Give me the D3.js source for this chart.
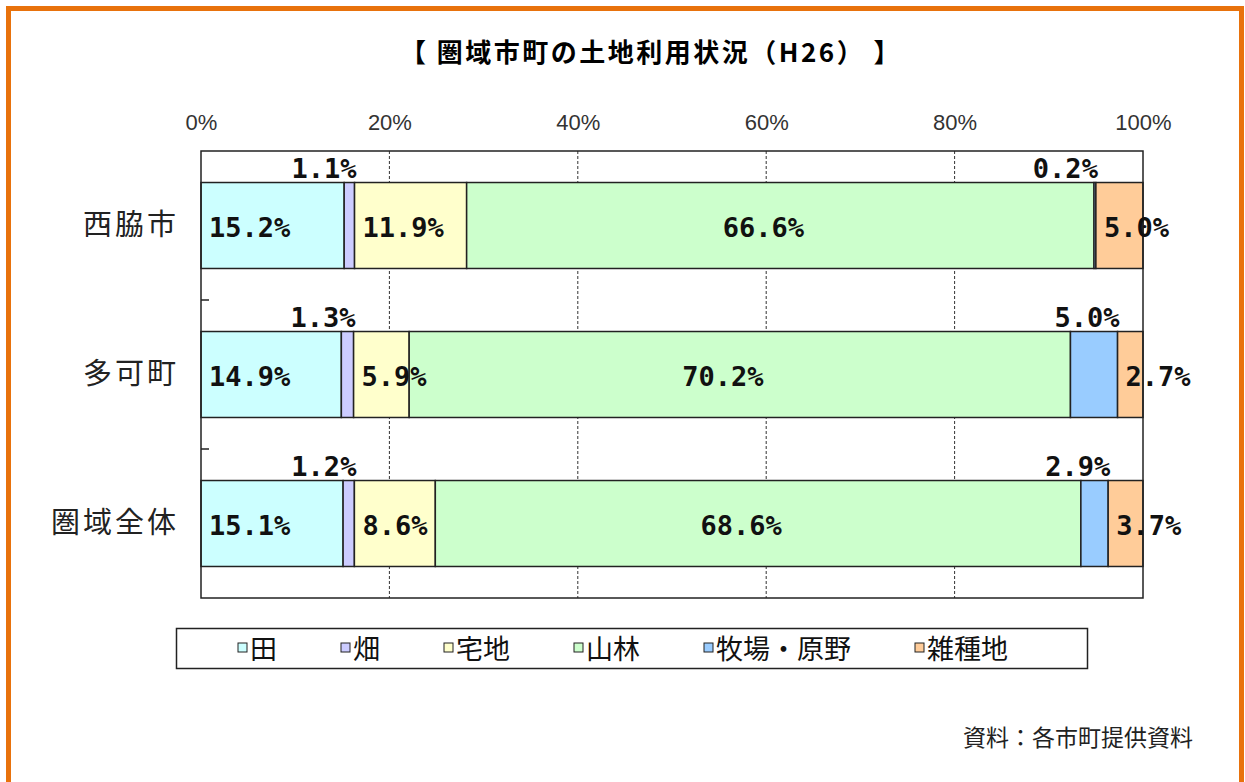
<!DOCTYPE html>
<html>
<head>
<meta charset="utf-8">
<script src="https://cdn.jsdelivr.net/npm/d3@7"></script>
<style>
  body { margin: 0; background: #fff; }
  svg { display: block; }
</style>
</head>
<body>
<div id="chart"></div>
<script>
// categories (rows) and series (stack segments)
var categories = ["西脇市", "多可町", "圏域全体"];
var seriesNames = ["田", "畑", "宅地", "山林", "牧場・原野", "雑種地"];

// values in %, one array per series, in category order
var ta      = [15.2, 14.9, 15.1];
var hata    = [1.1, 1.3, 1.2];
var takuchi = [11.9, 5.9, 8.6];
var sanrin  = [66.6, 70.2, 68.6];
var bokujo  = [0.2, 5.0, 2.9];
var zatsu   = [5.0, 2.7, 3.7];

var tickValues = [0, 20, 40, 60, 80, 100];

var title = "【 圏域市町の土地利用状況（H26） 】";
var source = "資料：各市町提供資料";

var colors = ["#ccffff", "#ccccff", "#ffffcc", "#ccffcc", "#99ccff", "#ffcc99"];
// series whose labels sit above the bar
var labelAbove = ["畑", "牧場・原野"];

var allSeries = [ta, hata, takuchi, sanrin, bokujo, zatsu];

// build rows for d3.stack
var rows = categories.map(function(c, i) {
  var r = {cat: c};
  seriesNames.forEach(function(s, j) { r[s] = allSeries[j][i]; });
  return r;
});

var W = 1245, H = 782;
var margin = {top: 151, left: 201},
    width = 942,
    height = 447;

var svg = d3.select("#chart").append("svg")
    .attr("width", W)
    .attr("height", H);

svg.append("rect").attr("width", W).attr("height", H).attr("fill", "#fff");

// orange frame (open at the bottom of the picture)
svg.append("rect")
    .attr("x", 8.5).attr("y", 8.5)
    .attr("width", 1233).attr("height", 820)
    .attr("fill", "none")
    .attr("stroke", "#e8720c")
    .attr("stroke-width", 5);

svg.append("text")
    .attr("x", 651).attr("y", 62)
    .attr("text-anchor", "middle")
    .style("font-family", "'Noto Sans CJK JP'")
    .style("font-weight", "bold")
    .style("font-size", "26px")
    .style("letter-spacing", "2.5px")
    .text(title);

var g = svg.append("g")
    .attr("transform", "translate(" + margin.left + "," + margin.top + ")");

var x = d3.scaleLinear().domain([0, 1]).range([0, width]);
var y = d3.scaleBand()
    .domain(categories)
    .range([0, height])
    .paddingInner(0.423)
    .paddingOuter(0.2115);

var stack = d3.stack().keys(seriesNames).offset(d3.stackOffsetExpand);
var layers = stack(rows);

// dashed gridlines
g.selectAll(".grid")
    .data(tickValues.slice(1, -1))
  .enter().append("line")
    .attr("class", "grid")
    .attr("x1", function(d) { return x(d / 100); })
    .attr("x2", function(d) { return x(d / 100); })
    .attr("y1", 0).attr("y2", height)
    .attr("stroke", "#333")
    .attr("stroke-width", 1)
    .attr("stroke-dasharray", "3,2");

// top axis tick labels
var xAxis = d3.axisTop(x)
    .tickValues(tickValues.map(function(d) { return d / 100; }))
    .tickSize(0)
    .tickPadding(0)
    .tickFormat(function(d) { return Math.round(d * 100) + "%"; });

var xg = g.append("g").attr("transform", "translate(0,-21)").call(xAxis);
xg.select(".domain").remove();
xg.selectAll("text")
    .style("font-family", "'Liberation Sans Narrow', 'Liberation Sans'")
    .style("font-size", "22px")
    .attr("fill", "#333");

// bars
var layer = g.selectAll(".layer")
    .data(layers)
  .enter().append("g")
    .attr("class", "layer")
    .attr("fill", function(d, i) { return colors[i]; });

layer.selectAll("rect")
    .data(function(d) { return d; })
  .enter().append("rect")
    .attr("x", function(d) { return x(d[0]); })
    .attr("width", function(d) { return x(d[1]) - x(d[0]); })
    .attr("y", function(d) { return y(d.data.cat); })
    .attr("height", y.bandwidth())
    .attr("stroke", "#222")
    .attr("stroke-width", 1.5);

// plot frame
g.append("rect")
    .attr("width", width).attr("height", height)
    .attr("fill", "none")
    .attr("stroke", "#222")
    .attr("stroke-width", 1.5);

// left axis with inward ticks at band boundaries
var bounds = categories.slice(1).map(function(c) { return y(c) - y.step() * y.paddingInner() / 2; });
g.selectAll(".ltick")
    .data(bounds)
  .enter().append("line")
    .attr("x1", 0).attr("x2", 8)
    .attr("y1", function(d) { return d; })
    .attr("y2", function(d) { return d; })
    .attr("stroke", "#222")
    .attr("stroke-width", 1.5);

var yAxis = d3.axisLeft(y).tickSize(0).tickPadding(22);
var yg = g.append("g").call(yAxis);
yg.select(".domain").remove();
yg.selectAll("text")
    .style("font-family", "'Noto Sans CJK JP'")
    .style("font-size", "29px")
    .style("letter-spacing", "3px")
    .attr("fill", "#222");

// data labels
layers.forEach(function(L, j) {
  var above = labelAbove.indexOf(L.key) >= 0;
  var mid = L.key === "山林";
  g.selectAll(".lab" + j)
      .data(L)
    .enter().append("text")
      .attr("class", "lab" + j)
      .attr("x", function(d) {
        if (above) return x(d[1]) + 2;
        if (mid) return (x(d[0]) + x(d[1])) / 2 - 17;
        return x(d[0]) + 8;
      })
      .attr("y", function(d) {
        return above ? y(d.data.cat) - 5 : y(d.data.cat) + y.bandwidth() / 2 + 11;
      })
      .attr("text-anchor", above ? "end" : (mid ? "middle" : "start"))
      .style("font-family", "'DejaVu Sans Mono'")
      .style("font-weight", "bold")
      .style("font-size", "27px")
      .attr("fill", "#111")
      .text(function(d, i) { return allSeries[j][i].toFixed(1) + "%"; });
});

// legend
var lg = svg.append("g");
lg.append("rect")
    .attr("x", 176.5).attr("y", 628.5)
    .attr("width", 911).attr("height", 40)
    .attr("fill", "#fff")
    .attr("stroke", "#222")
    .attr("stroke-width", 1.5);

var lx = 238;
seriesNames.forEach(function(s, i) {
  lg.append("rect")
      .attr("x", lx).attr("y", 643)
      .attr("width", 9).attr("height", 9)
      .attr("fill", colors[i])
      .attr("stroke", "#222")
      .attr("stroke-width", 1);
  var t = lg.append("text")
      .attr("x", lx + 12).attr("y", 659)
      .style("font-family", "'Noto Sans CJK JP'")
      .style("font-size", "27px")
      .attr("fill", "#111")
      .text(s);
  lx += 12 + t.node().getComputedTextLength() + 64;
});

svg.append("text")
    .attr("x", 1193).attr("y", 746)
    .attr("text-anchor", "end")
    .style("font-family", "'Noto Sans CJK JP'")
    .style("font-size", "23px")
    .attr("fill", "#222")
    .text(source);
</script>
</body>
</html>
